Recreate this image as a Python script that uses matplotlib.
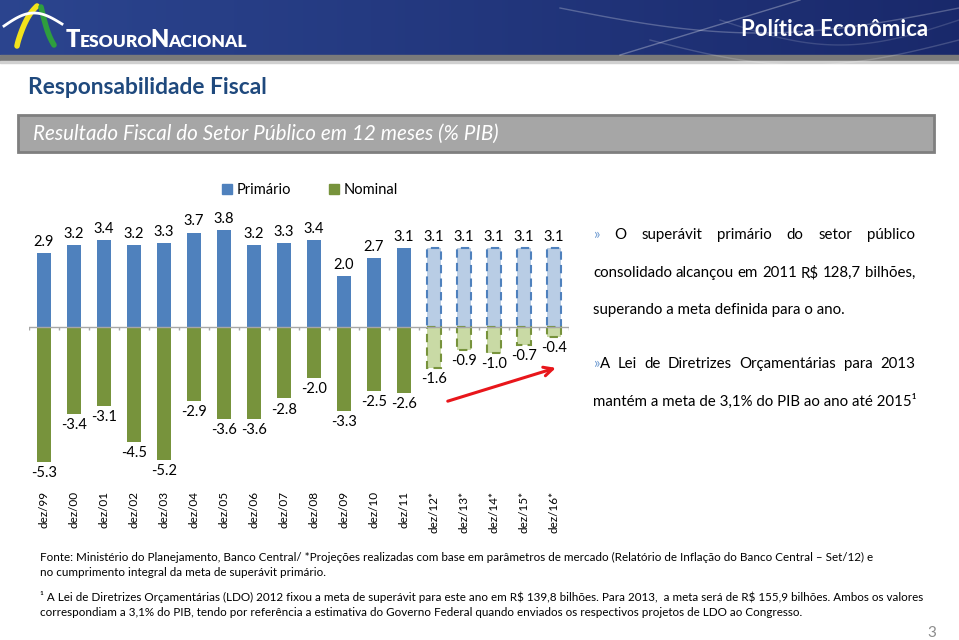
import numpy as np
import matplotlib
matplotlib.use("Agg")
import matplotlib.pyplot as plt
from matplotlib import font_manager
from matplotlib.patches import Rectangle, Patch

categories = ["dez/99", "dez/00", "dez/01", "dez/02", "dez/03", "dez/04", "dez/05",
              "dez/06", "dez/07", "dez/08", "dez/09", "dez/10", "dez/11",
              "dez/12*", "dez/13*", "dez/14*", "dez/15*", "dez/16*"]
primario = [2.9, 3.2, 3.4, 3.2, 3.3, 3.7, 3.8, 3.2, 3.3, 3.4, 2.0, 2.7, 3.1,
            3.1, 3.1, 3.1, 3.1, 3.1]
nominal = [-5.3, -3.4, -3.1, -4.5, -5.2, -2.9, -3.6, -3.6, -2.8, -2.0, -3.3, -2.5, -2.6,
           -1.6, -0.9, -1.0, -0.7, -0.4]
projetado = [c.endswith("*") for c in categories]

BLUE, GREEN = "#4F81BD", "#77933C"
LBLUE, LGREEN = "#B9CDE5", "#C9DAA5"

names = {f.name for f in font_manager.fontManager.ttflist}
MAIN = "Lato" if "Lato" in names else "DejaVu Sans"
NARROW = "Liberation Sans Narrow" if "Liberation Sans Narrow" in names else MAIN
plt.rcParams["font.family"] = [MAIN, "DejaVu Sans"]
plt.rcParams["text.parse_math"] = False

fig = plt.figure(figsize=(9.59, 6.4), dpi=100)
bg = fig.add_axes([0, 0, 1, 1])
bg.set_xlim(0, 959)
bg.set_ylim(640, 0)
bg.axis("off")
fig.canvas.draw()
rend = fig.canvas.get_renderer()


def width_of(t):
    return t.get_window_extent(rend).width


def fit(x, y, s, w, size=10, **kw):
    # scale font so the string spans w pixels
    t = bg.text(x, y, s, fontsize=size, **kw)
    t.set_fontsize(size * w / width_of(t))
    return t


def justify(words, x0, x1, y, size, **kw):
    # words: list of lists of (text, color) pieces
    items = []
    for word in words:
        pieces = [(bg.text(0, y, s, fontsize=size, color=c, va="center", **kw)) for s, c in word]
        items.append((pieces, sum(width_of(p) for p in pieces)))
    gap = (x1 - x0 - sum(w for _, w in items)) / max(len(items) - 1, 1)
    x = x0
    for pieces, w in items:
        xx = x
        for p in pieces:
            p.set_x(xx)
            xx += width_of(p)
        x += w + gap


# header banner
grad = np.linspace(0, 1, 959)
img = np.zeros((55, 959, 3))
img[..., 0] = 0.17 - 0.07 * grad
img[..., 1] = 0.27 - 0.11 * grad
img[..., 2] = 0.56 - 0.14 * grad
bg.imshow(img, extent=[0, 959, 55, 0], aspect="auto", zorder=0)
for a, b, c, al in [(560, 959, 8, 0.25), (650, 959, 40, 0.18), (720, 959, 20, 0.15)]:
    xs = np.linspace(a, b, 60)
    bg.plot(xs, c + 25 * np.sin((xs - a) / (b - a) * np.pi), color="white", lw=1, alpha=al)
bg.plot([620, 800], [55, 0], color="white", lw=1, alpha=0.3)
bg.add_patch(Rectangle((0, 55), 959, 6, color="#7A7A7A", zorder=1))
bg.add_patch(Rectangle((0, 61), 959, 2, color="#D0D0D0", zorder=1))

# logo
tt = np.linspace(0, 1, 30)
bg.plot(17 + 20 * tt, 46 - 40 * tt ** 0.8 - 4 * np.sin(tt * np.pi), color="#F2E21B", lw=4,
        solid_capstyle="round")
bg.plot(41 + 13 * tt, 7 + 38 * tt + 5 * np.sin(tt * np.pi), color="#2E9E3E", lw=4,
        solid_capstyle="round")
bg.plot(4 + 58 * tt, 26 - 12 * np.sin(tt * np.pi) - 2 * tt, color="white", lw=2)
pieces = [("T", 17), ("ESOURO", 12.5), ("N", 17), ("ACIONAL", 12.5)]
x = 66
for s, fs in pieces:
    t = bg.text(x, 47, s, fontsize=fs, color="white", fontweight="heavy", va="baseline")
    x += width_of(t) - 1
bg.text(928, 30, "Política Econômica", fontsize=16, color="white", fontweight="bold",
        ha="right", va="center")

# titles
fit(28, 88, "Responsabilidade Fiscal", 240, color="#1F497D", fontweight="bold", va="center")
bg.add_patch(Rectangle((18, 115), 916, 37, facecolor="#A6A6A6", edgecolor="#7F7F7F", lw=2))
fit(33, 134, "Resultado Fiscal do Setor Público em 12 meses (% PIB)", 464,
    color="white", fontstyle="italic", va="center")

# chart
ax = fig.add_axes([29 / 959, 1 - 466 / 640, 540 / 959, 266.5 / 640])
ax.set_facecolor("none")
x = np.arange(len(categories))
bp = ax.bar(x, primario, 0.47, color=[LBLUE if p else BLUE for p in projetado])
bn = ax.bar(x, nominal, 0.47, color=[LGREEN if p else GREEN for p in projetado])
for bars, edge in [(bp, BLUE), (bn, GREEN)]:
    for rect, p in zip(bars, projetado):
        if p:
            rect.set_edgecolor(edge)
            rect.set_linestyle((0, (4, 2.5)))
            rect.set_linewidth(1.5)
ax.bar_label(bp, fmt="%.1f", padding=3, fontsize=10.5)
ax.bar_label(bn, fmt="%.1f", padding=3, fontsize=10.5)
ax.axhline(0, color="#A6A6A6", lw=1, zorder=3)
ax.vlines(np.arange(-0.5, len(categories)), -0.12, 0, color="#A6A6A6", lw=1)
ax.set_xlim(-0.5, len(categories) - 0.5)
ax.set_ylim(-5.45, 5.0)
ax.set_xticks(x)
ax.set_xticklabels(categories, rotation=90, fontsize=8.5)
ax.tick_params(axis="x", length=0, pad=18)
ax.set_yticks([])
for sp in ax.spines.values():
    sp.set_visible(False)
ax.annotate("", xy=(17.15, -1.57), xytext=(13.37, -2.94),
            arrowprops=dict(arrowstyle="->", color="#E8161B", lw=2.2, mutation_scale=16))

fig.legend(handles=[Patch(color=BLUE, label="Primário"), Patch(color=GREEN, label="Nominal")],
           loc="center", bbox_to_anchor=(310 / 959, 1 - 190 / 640), ncol=2, frameon=False,
           fontsize=10.5, handlelength=0.7, handleheight=0.7, handletextpad=0.3,
           columnspacing=2.6)

# right-hand notes
ref = fit(593, 401, "mantém a meta de 3,1% do PIB ao ano até 2015¹", 322, va="center")
size = ref.get_fontsize()
K = "#000000"
AR = "#6F9BD1"
justify([[("»", AR)], [("O", K)]] + [[(w, K)] for w in "superávit primário do setor público".split()],
        593, 915, 235, size)
justify([[(w, K)] for w in "consolidado alcançou em 2011 R$ 128,7 bilhões,".split()],
        593, 915, 273, size)
bg.text(593, 310, "superando a meta definida para o ano.", fontsize=size, va="center")
justify([[("»", AR), ("A", K)]] + [[(w, K)] for w in "Lei de Diretrizes Orçamentárias para 2013".split()],
        593, 915, 364, size)

# footnotes
f1 = fit(40, 557, "Fonte: Ministério do Planejamento, Banco Central/ *Projeções realizadas com base em "
         "parâmetros de mercado (Relatório de Inflação do Banco Central – Set/12) e", 880,
         family=NARROW, va="center")
f3 = fit(40, 597, "¹ A Lei de Diretrizes Orçamentárias (LDO) 2012 fixou a meta de superávit para este "
         "ano em R$ 139,8 bilhões. Para 2013,  a meta será de R$ 155,9 bilhões. Ambos os valores",
         878, family=NARROW, va="center")
fs = min(f1.get_fontsize(), f3.get_fontsize())
f1.set_fontsize(fs)
f3.set_fontsize(fs)
bg.text(40, 573, "no cumprimento integral da meta de superávit primário.", fontsize=fs,
        family=NARROW, va="center")
bg.text(40, 612, "correspondiam a 3,1% do PIB, tendo por referência a estimativa do Governo Federal "
        "quando enviados os respectivos projetos de LDO ao Congresso.", fontsize=fs,
        family=NARROW, va="center")
bg.text(927, 633, "3", fontsize=11, color="#8C8C8C", va="center")

fig.savefig("out.png", dpi=100)
